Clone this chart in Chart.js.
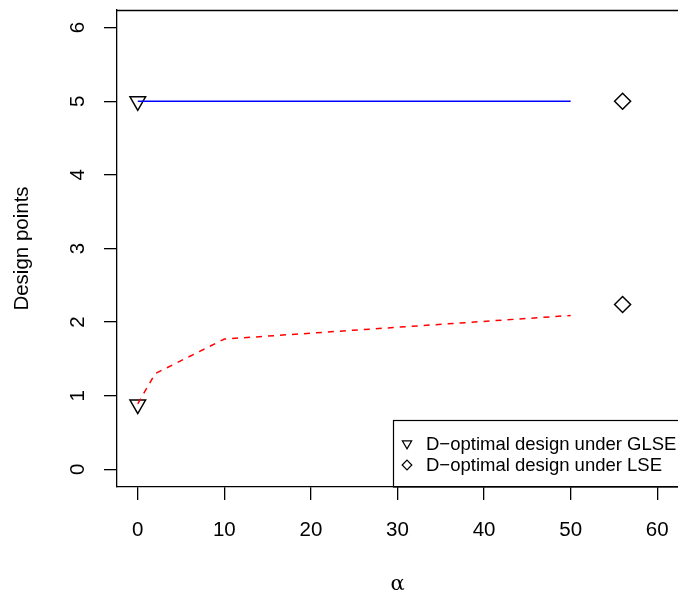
<!DOCTYPE html>
<html lang="en">

<head>
  <meta charset="UTF-8" />
  <title>Design points</title>
  <script src="https://cdn.jsdelivr.net/npm/chart.js"></script>
  <style>
    body { margin: 0; background: #fff; }
  </style>
</head>

<body>
  <canvas id="grafico" width="678" height="592"></canvas>
</body>

</html>
<script>
  // valores
  const alfa = [0, 2, 10, 50];
  const pontoSuperior = [5, 5, 5, 5];
  const pontoInferior = [0.89, 1.30, 1.77, 2.09];
  const glseAlfa = [0, 0];
  const glsePontos = [5, 0.88];
  const lseAlfa = [56, 56];
  const lsePontos = [5, 2.24];
  const ticksX = [0, 10, 20, 30, 40, 50, 60];
  const ticksY = [0, 1, 2, 3, 4, 5, 6];
  const legendas = ['D\u2212optimal design under GLSE', 'D\u2212optimal design under LSE'];

  function pares(xs, ys) {
    return xs.map(function (x, i) { return { x: x, y: ys[i] }; });
  }

  // moldura de cima, rotulos do eixo y (girados) e legenda
  const extras = {
    id: 'extras',
    afterDraw: function (chart) {
      const ctx = chart.ctx;
      const area = chart.chartArea;
      ctx.save();
      ctx.strokeStyle = '#000';
      ctx.lineWidth = 1.3;
      ctx.beginPath();
      ctx.moveTo(area.left, Math.round(area.top) + 0.5);
      ctx.lineTo(area.right + 2, Math.round(area.top) + 0.5);
      ctx.stroke();

      // rotulos do eixo y
      const escalaY = chart.scales.y;
      ctx.fillStyle = '#000';
      ctx.font = '20.5px "Liberation Sans", Arial, sans-serif';
      ctx.textAlign = 'center';
      ctx.textBaseline = 'middle';
      escalaY.ticks.forEach(function (t) {
        const py = escalaY.getPixelForValue(t.value);
        ctx.save();
        ctx.translate(78, py);
        ctx.rotate(-Math.PI / 2);
        ctx.fillText(String(t.value), 0, 0);
        ctx.restore();
      });

      // legenda
      const caixaX = 393.5, caixaY = 420.5;
      ctx.lineWidth = 1.2;
      ctx.strokeRect(caixaX, caixaY, 300, area.bottom - caixaY);
      ctx.font = '18.5px "Liberation Sans", Arial, sans-serif';
      ctx.textAlign = 'left';
      const linhas = [443.5, 465];
      const sx = 407;
      // triangulo para baixo
      let r = 5.4, cy = linhas[0];
      ctx.beginPath();
      ctx.moveTo(sx, cy + r);
      ctx.lineTo(sx + r * 0.866, cy - r / 2);
      ctx.lineTo(sx - r * 0.866, cy - r / 2);
      ctx.closePath();
      ctx.stroke();
      // losango
      r = 4.8; cy = linhas[1];
      ctx.beginPath();
      ctx.moveTo(sx - r, cy);
      ctx.lineTo(sx, cy - r);
      ctx.lineTo(sx + r, cy);
      ctx.lineTo(sx, cy + r);
      ctx.closePath();
      ctx.stroke();
      legendas.forEach(function (txt, i) {
        ctx.fillText(txt, 426, linhas[i] + 1);
      });
      ctx.restore();
    }
  };

  const dados = {
    datasets: [
      {
        label: 'superior',
        data: pares(alfa, pontoSuperior),
        showLine: true,
        borderColor: '#0000ff',
        borderWidth: 1.5,
        pointRadius: 0,
        fill: false
      },
      {
        label: 'inferior',
        data: pares(alfa, pontoInferior),
        showLine: true,
        borderColor: '#ff0000',
        borderWidth: 1.5,
        borderDash: [6, 6],
        pointRadius: 0,
        fill: false
      },
      {
        label: legendas[0],
        data: pares(glseAlfa, glsePontos),
        showLine: false,
        pointStyle: 'triangle',
        rotation: 180,
        pointRadius: 9,
        borderColor: '#000',
        backgroundColor: 'rgba(0,0,0,0)',
        pointBorderWidth: 1.5
      },
      {
        label: legendas[1],
        data: pares(lseAlfa, lsePontos),
        showLine: false,
        pointStyle: 'rectRot',
        pointRadius: 8,
        borderColor: '#000',
        backgroundColor: 'rgba(0,0,0,0)',
        pointBorderWidth: 1.5
      }
    ]
  };

  const config = {
    type: 'scatter',
    data: dados,
    plugins: [extras],
    options: {
      responsive: false,
      animation: false,
      devicePixelRatio: 1,
      layout: { autoPadding: false, padding: { left: 0, top: 10, right: 0, bottom: 0 } },
      plugins: {
        legend: { display: false },
        tooltip: { enabled: false }
      },
      scales: {
        x: {
          type: 'linear',
          min: -2.4,
          max: 62.4,
          afterBuildTicks: function (s) { s.ticks = ticksX.map(function (v) { return { value: v }; }); },
          afterFit: function (s) {
            s.height = 105;
            s.paddingLeft = 0;
            s.paddingRight = 0;
          },
          grid: { drawOnChartArea: false, tickLength: 13, color: '#000', lineWidth: 1.3 },
          border: { color: '#000', width: 1.3 },
          ticks: {
            color: '#000',
            padding: 18,
            maxRotation: 0,
            autoSkip: false,
            font: { family: '"Liberation Sans", Arial, sans-serif', size: 20.5 }
          },
          title: {
            display: true,
            text: '\u03b1',
            color: '#000',
            font: { family: '"DejaVu Serif", "Liberation Serif", serif', size: 21 },
            padding: { top: 0, bottom: -5 }
          }
        },
        y: {
          type: 'linear',
          min: -0.24,
          max: 6.24,
          afterBuildTicks: function (s) { s.ticks = ticksY.map(function (v) { return { value: v }; }); },
          afterFit: function (s) { s.width = 117; },
          grid: { drawOnChartArea: false, tickLength: 13, color: '#000', lineWidth: 1.3 },
          border: { color: '#000', width: 1.3 },
          ticks: { display: false },
          title: {
            display: true,
            text: 'Design points',
            color: '#000',
            font: { family: '"Liberation Sans", Arial, sans-serif', size: 20.5 },
            padding: { top: 10, bottom: 0 }
          }
        }
      }
    }
  };

  new Chart(document.getElementById('grafico'), config);
</script>
